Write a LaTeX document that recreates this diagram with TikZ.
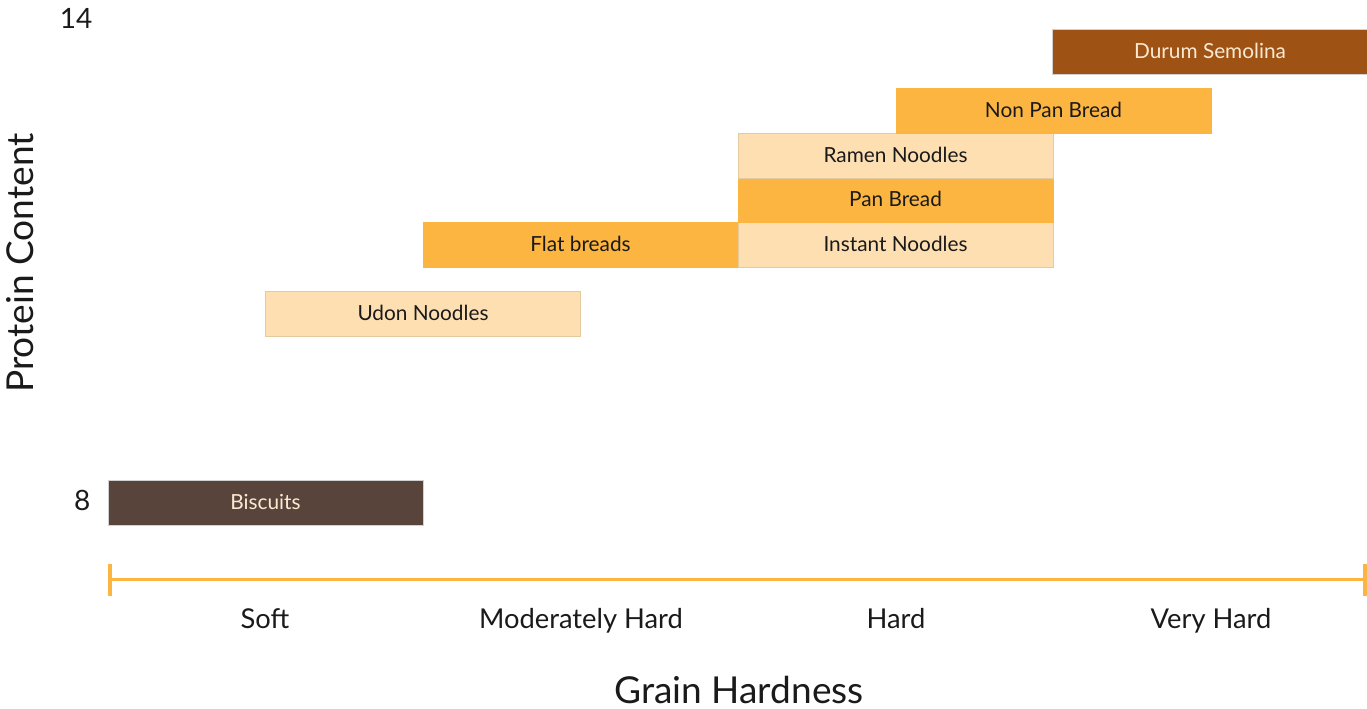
\documentclass[tikz,border=0pt]{standalone}
\usepackage{fontspec}
\setmainfont{Lato}
\usepackage{xcolor}
\usetikzlibrary{positioning}

\definecolor{barDark}{HTML}{59443C}
\definecolor{barBrown}{HTML}{9E5314}
\definecolor{barOrange}{HTML}{FBB540}
\definecolor{barLight}{HTML}{FEDFB1}
\definecolor{barText}{HTML}{FBE9D2}
\definecolor{inkText}{HTML}{1A1A1A}

\tikzset{
  bar/.style={rectangle, minimum width=236.25pt, minimum height=33.6pt, inner sep=0pt,
    draw=black!18, line width=0.3pt, font=\fontsize{15.6}{18}\selectfont,
    text height=1em, text depth=0pt},
  darkbar/.style={bar, fill=barDark, text=barText},
  brownbar/.style={bar, fill=barBrown, text=barText},
  orangebar/.style={bar, fill=barOrange, text=inkText, draw=barOrange},
  lightbar/.style={bar, fill=barLight, text=inkText, draw=barLight!90!black},
  hardlabel/.style={anchor=base, text=inkText, font=\fontsize{20.5}{24}\selectfont},
  axistitle/.style={anchor=base, text=inkText, font=\fontsize{27.8}{32}\selectfont},
  protlabel/.style={anchor=base east, text=inkText, font=\fontsize{21}{24}\selectfont}
}

\begin{document}
\begin{tikzpicture}[x=0.75pt, y=-0.75pt]
  \useasboundingbox (0,0) rectangle (1367,709);
  % Bars: grain hardness range vs. protein content
  \foreach \cx/\cy/\sty/\name/\txt in {
      265.5/503/darkbar/biscuits/Biscuits,
      423/313.5/lightbar/udon/Udon Noodles,
      580.5/244.5/orangebar/flat/Flat breads,
      895.5/244.5/lightbar/instant/Instant Noodles,
      895.5/200/orangebar/pan/Pan Bread,
      895.5/155.5/lightbar/ramen/Ramen Noodles,
      1053.5/110.5/orangebar/nonpan/Non Pan Bread,
      1210/51.5/brownbar/durum/Durum Semolina} {
    \node[\sty] (\name) at (\cx,\cy) {\txt};
  }
  % Hardness axis
  \coordinate (axL) at (110,579);
  \coordinate (axR) at (1365,579);
  \draw[barOrange, line width=2.25pt] (axL) -- (axR);
  \draw[barOrange, line width=3pt] ([yshift=-13pt]axL) -- ([yshift=11pt]axL);
  \draw[barOrange, line width=3pt] ([yshift=-13pt]axR) -- ([yshift=11pt]axR);
  \foreach \lx/\name/\txt in {265/soft/Soft, 581/modhard/Moderately Hard,
      896/hard/Hard, 1211/vhard/Very Hard} {
    \node[hardlabel] (\name) at (\lx,628) {\txt};
  }
  \node[axistitle] (xtitle) at (739,703) {Grain Hardness};
  \node[axistitle, rotate=90] (ytitle) at (33,263) {Protein Content};
  \node[protlabel] (p14) at (97,29) {14};
  \node[protlabel] (p8) at (95,510) {8};
\end{tikzpicture}
\end{document}
